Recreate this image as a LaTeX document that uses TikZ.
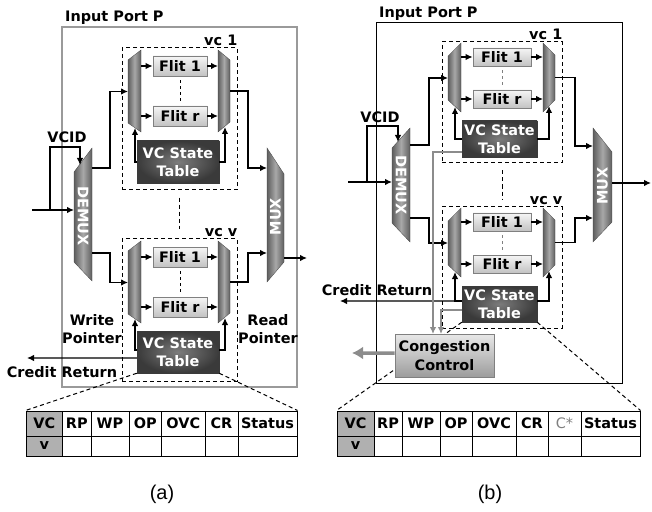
\documentclass[tikz,border=0pt]{standalone}
\usepackage{fontspec}
\setmainfont{DejaVu Sans}
\newfontfamily\capfont{Liberation Sans}
\usetikzlibrary{arrows.meta}
\definecolor{muxd}{HTML}{5E5E5E}
\definecolor{muxl}{HTML}{A8A8A8}
\definecolor{stdark}{HTML}{3A3A3A}
\definecolor{stlight}{HTML}{7C7C7C}
\definecolor{flitT}{HTML}{F6F6F6}
\definecolor{flitB}{HTML}{C2C2C2}
\definecolor{ccT}{HTML}{E8E8E8}
\definecolor{ccB}{HTML}{9C9C9C}
\definecolor{garr}{HTML}{8C8C8C}
\definecolor{boxgray}{HTML}{9A9A9A}
\definecolor{cellgray}{HTML}{B0B0B0}
\tikzset{
 vcbox/.style={draw, dash pattern=on 4bp off 3bp, line width=1bp, inner sep=0},
 flitbox/.style={draw=gray, line width=0.8bp, top color=flitT, bottom color=flitB, inner sep=0},
 vcst/.style={draw=stdark, line width=0.5bp, inner color=stlight, outer color=stdark, text=white, align=center, inner sep=0},
 ccbox/.style={draw=gray, line width=0.8bp, top color=ccT, bottom color=ccB, align=center, inner sep=0},
 arr/.style={-{Latex[length=7bp,width=6.5bp]}, line width=1.2bp},
 garrow/.style={arr, color=garr},
 thickarr/.style={-{Latex[length=11bp,width=13bp]}, line width=3.5bp, color=garr},
 dashln/.style={dash pattern=on 4bp off 3bp, line width=1bp},
 dotln/.style={dash pattern=on 3bp off 3bp, line width=1bp},
 muxfill/.style={left color=muxd, right color=muxd, middle color=muxl, draw=muxd!70!black, line width=0.3bp},
 muxtxt/.style={text=white, inner sep=0},
 lbl/.style={inner sep=0},
 tcell/.style={draw, line width=1bp, inner sep=0, fill=white},
}
\newcommand\muxshape[8]{%
 \shadedraw[#8] (#2,#4) -- (#3,#6) -- (#3,#7) -- (#2,#5) -- cycle;
 \coordinate (#1-w) at (#2,{(#4+#5)/2});
 \coordinate (#1-e) at (#3,{(#6+#7)/2});
 \coordinate (#1) at ({(#2+#3)/2},{(#4+#5+#6+#7)/4});
}
\newcommand\tcel[7]{\node[tcell,#6,minimum width={#3bp-#2bp},minimum height=#5bp] (#1) at ({(#2+#3)/2},#4) {#7};}
\begin{document}
\begin{tikzpicture}[x=1bp,y=-1bp,font=\fontsize{14.5}{18.5}\selectfont\bfseries]
\useasboundingbox (0,0) rectangle (652,512);

%================ (a) ================
\node[draw=boxgray, line width=1.3bp, minimum width=235bp, minimum height=360bp, inner sep=0] (portA) at (179.5,207) {};
\node[lbl, anchor=base west] (portAl) at (65,22) {Input Port P};

% vc 1
\node[vcbox, minimum width=115bp, minimum height=142bp] (a1) at (179.5,119) {};
\node[lbl, anchor=south east] (a1l) at ([yshift=2bp]a1.north east) {vc 1};
\muxshape{a1lm}{128}{141}{60}{123}{50}{132}{muxfill}
\muxshape{a1rm}{218}{230}{50}{132}{60}{122}{muxfill}
\node[flitbox, minimum width=54bp, minimum height=20bp] (a1f1) at (180,66) {Flit 1};
\node[flitbox, minimum width=54bp, minimum height=20bp] (a1fr) at (180,116) {Flit r};
\draw[dotln, shorten <=4bp, shorten >=4bp] (a1f1.south) -- (a1fr.north);
\node[vcst, minimum width=82bp, minimum height=42bp] (a1s) at (178,162) {VC State\\Table};
\draw[arr] (a1lm-e |- a1f1) -- (a1f1.west);
\draw[arr] (a1lm-e |- a1fr) -- (a1fr.west);
\draw[arr] (a1f1.east) -- (a1f1 -| a1rm-w);
\draw[arr] (a1fr.east) -- (a1fr -| a1rm-w);
\coordinate (a1wp) at (135,128);
\coordinate (a1rp) at (225,127);
\draw[arr] (a1s.west) -| (a1wp);
\draw[arr] (a1s.east) -| (a1rp);

% vc v
\node[vcbox, minimum width=115bp, minimum height=142bp] (av) at (179.5,310) {};
\node[lbl, anchor=south east] (avl) at ([yshift=2bp]av.north east) {vc v};
\muxshape{avlm}{128}{141}{251}{314}{241}{323}{muxfill}
\muxshape{avrm}{218}{230}{241}{323}{251}{313}{muxfill}
\node[flitbox, minimum width=54bp, minimum height=20bp] (avf1) at (180,257) {Flit 1};
\node[flitbox, minimum width=54bp, minimum height=20bp] (avfr) at (180,307) {Flit r};
\draw[dotln, shorten <=4bp, shorten >=4bp] (avf1.south) -- (avfr.north);
\node[vcst, minimum width=82bp, minimum height=42bp] (avs) at (178,352) {VC State\\Table};
\draw[arr] (avlm-e |- avf1) -- (avf1.west);
\draw[arr] (avlm-e |- avfr) -- (avfr.west);
\draw[arr] (avf1.east) -- (avf1 -| avrm-w);
\draw[arr] (avfr.east) -- (avfr -| avrm-w);
\coordinate (avwp) at (135,319);
\coordinate (avrp) at (225,318);
\draw[arr] ([yshift=2bp]avs.west) -| (avwp);
\draw[arr] ([yshift=2bp]avs.east) -| (avrp);
\coordinate (acr) at (27,358);
\draw[arr] ([yshift=-6bp]avs.west) -- (acr);
\node[lbl] (acrl) at (62,372) {Credit Return};

\draw[dashln, shorten <=7bp, shorten >=9bp] (a1.south) -- (av.north);

\node[lbl, align=center] (awp) at (92,329) {Write\\Pointer};
\node[lbl, align=center] (arp) at (268,329) {Read\\Pointer};

% DEMUX / MUX
\muxshape{dmA}{74}{92}{172}{262}{148}{281}{muxfill}
\node[muxtxt, rotate=-90] (dmAt) at (dmA) {DEMUX};
\muxshape{mxA}{267}{284}{148}{282}{174}{262}{muxfill}
\node[muxtxt, rotate=90] (mxAt) at (mxA) {MUX};

\coordinate (ainA) at (32,210);
\coordinate (asplit) at (50,210);
\coordinate (avcidc) at (80,147);
\coordinate (avcid) at (80,165);
\draw[arr] (ainA) -- (ainA -| dmA-w);
\draw[arr] (asplit) |- (avcidc) -- (avcid);
\node[lbl] (avcidl) at (67,137) {VCID};
\coordinate (dmAo1) at (92,168);
\coordinate (dmAo2) at (92,253);
\draw[arr] (dmAo1) -- ++(18,0) |- (a1lm-w);
\draw[arr] (dmAo2) -- ++(18,0) |- (avlm-w);
\coordinate (mxAi1) at (267,168);
\coordinate (mxAi2) at (267,253);
\draw[arr] (a1rm-e) -- ++(18,0) |- (mxAi1);
\draw[arr] (avrm-e) -- ++(18,0) |- (mxAi2);
\coordinate (mxAo) at (284,258);
\coordinate (aout) at (307,258);
\draw[arr] (mxAo) -- (aout);

% table (a)
\tcel{ta-vc}{26}{62.5}{423.5}{25}{fill=cellgray}{VC}
\tcel{ta-rp}{62.5}{91}{423.5}{25}{}{RP}
\tcel{ta-wp}{91}{129}{423.5}{25}{}{WP}
\tcel{ta-op}{129}{161.5}{423.5}{25}{}{OP}
\tcel{ta-ovc}{161.5}{205}{423.5}{25}{}{OVC}
\tcel{ta-cr}{205}{238}{423.5}{25}{}{CR}
\tcel{ta-st}{238}{297}{423.5}{25}{}{Status}
\tcel{tav-vc}{26}{62.5}{446}{20}{fill=cellgray}{v}
\tcel{tav-rp}{62.5}{91}{446}{20}{}{}
\tcel{tav-wp}{91}{129}{446}{20}{}{}
\tcel{tav-op}{129}{161.5}{446}{20}{}{}
\tcel{tav-ovc}{161.5}{205}{446}{20}{}{}
\tcel{tav-cr}{205}{238}{446}{20}{}{}
\tcel{tav-st}{238}{297}{446}{20}{}{}
\draw[dashln] (avs.south west) -- (ta-vc.north west);
\draw[dashln] (avs.south east) -- (ta-st.north east);
\node[lbl, font=\capfont\fontsize{20}{24}\selectfont] (capa) at (162,494) {(a)};

%================ (b) ================
\node[draw, line width=1bp, minimum width=246bp, minimum height=360bp, inner sep=0] (portB) at (499,203) {};
\node[lbl, anchor=base west] (portBl) at (379,18) {Input Port P};

% vc 1
\node[vcbox, minimum width=120bp, minimum height=121bp] (b1) at (502,102.5) {};
\node[lbl, anchor=south east] (b1l) at ([yshift=2bp]b1.north east) {vc 1};
\muxshape{b1lm}{448}{461}{56}{100}{43}{112}{muxfill}
\muxshape{b1rm}{543}{555}{43}{112}{55}{100}{muxfill}
\node[flitbox, minimum width=58bp, minimum height=18bp] (b1f1) at (502,57) {Flit 1};
\node[flitbox, minimum width=58bp, minimum height=18bp] (b1fr) at (502,99) {Flit r};
\draw[dotln, gray, shorten <=4bp, shorten >=4bp] (b1f1.south) -- (b1fr.north);
\node[vcst, minimum width=75bp, minimum height=36bp] (b1s) at (499.5,139) {VC State\\Table};
\draw[arr] (b1lm-e |- b1f1) -- (b1f1.west);
\draw[arr] (b1lm-e |- b1fr) -- (b1fr.west);
\draw[arr] (b1f1.east) -- (b1f1 -| b1rm-w);
\draw[arr] (b1fr.east) -- (b1fr -| b1rm-w);
\coordinate (b1wp) at (455,107);
\coordinate (b1rp) at (549,106);
\draw[arr] (b1s.west) -| (b1wp);
\draw[arr] (b1s.east) -| (b1rp);

% vc v
\node[vcbox, minimum width=120bp, minimum height=121bp] (bv) at (502,267.5) {};
\node[lbl, anchor=south east] (bvl) at ([yshift=2bp]bv.north east) {vc v};
\muxshape{bvlm}{448}{461}{221}{265}{208}{277}{muxfill}
\muxshape{bvrm}{543}{555}{208}{277}{220}{265}{muxfill}
\node[flitbox, minimum width=58bp, minimum height=18bp] (bvf1) at (502,222) {Flit 1};
\node[flitbox, minimum width=58bp, minimum height=18bp] (bvfr) at (502,264) {Flit r};
\draw[dotln, gray, shorten <=4bp, shorten >=4bp] (bvf1.south) -- (bvfr.north);
\node[vcst, minimum width=75bp, minimum height=36bp] (bvs) at (499.5,304) {VC State\\Table};
\draw[arr] (bvlm-e |- bvf1) -- (bvf1.west);
\draw[arr] (bvlm-e |- bvfr) -- (bvfr.west);
\draw[arr] (bvf1.east) -- (bvf1 -| bvrm-w);
\draw[arr] (bvfr.east) -- (bvfr -| bvrm-w);
\coordinate (bvwp) at (455,272);
\coordinate (bvrp) at (549,271);
\draw[arr] ([yshift=3bp]bvs.west) -| (bvwp);
\draw[arr] ([yshift=3bp]bvs.east) -| (bvrp);
\coordinate (bcr) at (340,301);
\draw[arr] ([yshift=3bp]bvs.west) -- (bcr);
\node[lbl] (bcrl) at (377,290) {Credit Return};

\draw[dashln, shorten <=7bp, shorten >=7bp] (b1.south) -- (bv.north);

% DEMUX / MUX
\muxshape{dmB}{392}{410}{148}{223}{128}{242}{muxfill}
\node[muxtxt, rotate=-90] (dmBt) at (dmB) {DEMUX};
\muxshape{mxB}{593}{612}{128}{242}{152}{222}{muxfill}
\node[muxtxt, rotate=90] (mxBt) at (mxB) {MUX};

\coordinate (binB) at (348,182);
\coordinate (bsplit) at (367,182);
\coordinate (bvcidc) at (398,126);
\coordinate (bvcid) at (398,142);
\draw[arr] (binB) -- (binB -| dmB-w);
\draw[arr] (bsplit) |- (bvcidc) -- (bvcid);
\node[lbl] (bvcidl) at (380,117) {VCID};
\coordinate (dmBo1) at (410,145);
\coordinate (dmBo2) at (410,218);
\draw[arr] (dmBo1) -- ++(19,0) |- (b1lm-w);
\draw[arr] (dmBo2) -- ++(19,0) |- (bvlm-w);
\coordinate (mxBi1) at (593,146);
\coordinate (mxBi2) at (593,218);
\draw[arr] (b1rm-e) -- ++(20,0) |- (mxBi1);
\draw[arr] (bvrm-e) -- ++(20,0) |- (mxBi2);
\coordinate (mxBo) at (612,183);
\coordinate (bout) at (651,183);
\draw[arr] (mxBo) -- (bout);

% table (b)
\tcel{tb-vc}{337}{374}{423.5}{25}{fill=cellgray}{VC}
\tcel{tb-rp}{374}{402}{423.5}{25}{}{RP}
\tcel{tb-wp}{402}{440}{423.5}{25}{}{WP}
\tcel{tb-op}{440}{472}{423.5}{25}{}{OP}
\tcel{tb-ovc}{472}{516}{423.5}{25}{}{OVC}
\tcel{tb-cr}{516}{548}{423.5}{25}{}{CR}
\tcel{tb-cs}{548}{581}{423.5}{25}{text=gray, font=\fontsize{14.5}{18.5}\selectfont\mdseries}{C*}
\tcel{tb-st}{581}{640}{423.5}{25}{}{Status}
\tcel{tbv-vc}{337}{374}{446}{20}{fill=cellgray}{v}
\tcel{tbv-rp}{374}{402}{446}{20}{}{}
\tcel{tbv-wp}{402}{440}{446}{20}{}{}
\tcel{tbv-op}{440}{472}{446}{20}{}{}
\tcel{tbv-ovc}{472}{516}{446}{20}{}{}
\tcel{tbv-cr}{516}{548}{446}{20}{}{}
\tcel{tbv-cs}{548}{581}{446}{20}{}{}
\tcel{tbv-st}{581}{640}{446}{20}{}{}
\draw[dashln] (bvs.south west) -- (tb-vc.north west);
\draw[dashln] (bvs.south east) -- (tb-st.north east);

% congestion control
\coordinate (bg1) at (433,334);
\coordinate (bg2) at (441,334);
\draw[garrow] ([yshift=-13bp]b1s.west) -| (bg1);
\draw[garrow] ([yshift=-6bp]bvs.west) -| (bg2);
\node[ccbox, minimum width=99bp, minimum height=43bp] (cc) at (444.5,355.5) {Congestion\\Control};
\coordinate (bcc) at (352,353);
\draw[thickarr] ([yshift=2.5bp]cc.west) -- (bcc);
\node[lbl, font=\capfont\fontsize{20}{24}\selectfont] (capb) at (490,494) {(b)};
\end{tikzpicture}
\end{document}
